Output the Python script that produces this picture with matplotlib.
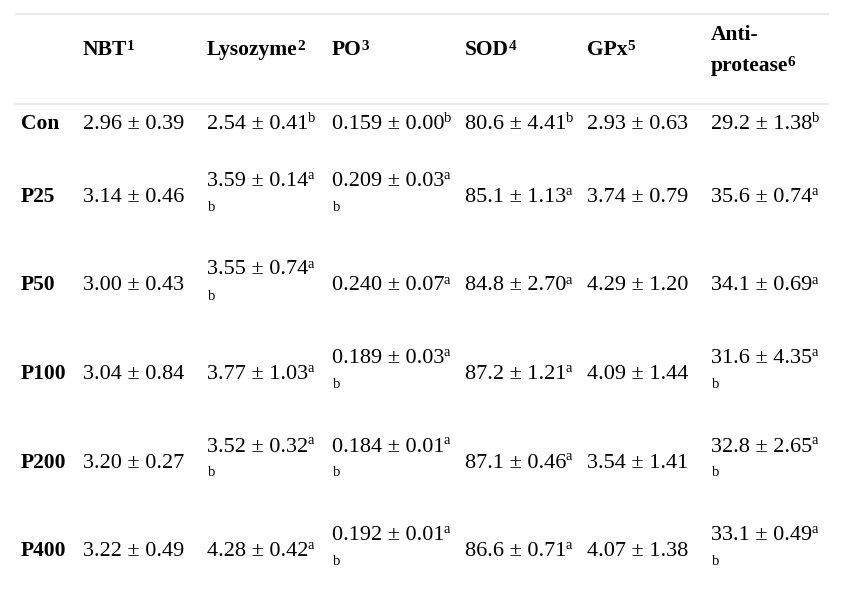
import matplotlib
matplotlib.use('Agg')
import matplotlib.pyplot as plt

# ---------------- data ----------------
groups = ['Con', 'P25', 'P50', 'P100', 'P200', 'P400']
headers = ['NBT', 'Lysozyme', 'PO', 'SOD', 'GPx', 'Anti-\nprotease']
header_notes = ['1', '2', '3', '4', '5', '6']

nbt_mean = [2.96, 3.14, 3.00, 3.04, 3.20, 3.22]
nbt_sd = [0.39, 0.46, 0.43, 0.84, 0.27, 0.49]
nbt_sig = ['', '', '', '', '', '']

lys_mean = [2.54, 3.59, 3.55, 3.77, 3.52, 4.28]
lys_sd = [0.41, 0.14, 0.74, 1.03, 0.32, 0.42]
lys_sig = ['b', 'ab', 'ab', 'a', 'ab', 'a']

po_mean = [0.159, 0.209, 0.240, 0.189, 0.184, 0.192]
po_sd = [0.00, 0.03, 0.07, 0.03, 0.01, 0.01]
po_sig = ['b', 'ab', 'a', 'ab', 'ab', 'ab']

sod_mean = [80.6, 85.1, 84.8, 87.2, 87.1, 86.6]
sod_sd = [4.41, 1.13, 2.70, 1.21, 0.46, 0.71]
sod_sig = ['b', 'a', 'a', 'a', 'a', 'a']

gpx_mean = [2.93, 3.74, 4.29, 4.09, 3.54, 4.07]
gpx_sd = [0.63, 0.79, 1.20, 1.44, 1.41, 1.38]
gpx_sig = ['', '', '', '', '', '']

ap_mean = [29.2, 35.6, 34.1, 31.6, 32.8, 33.1]
ap_sd = [1.38, 0.74, 0.69, 4.35, 2.65, 0.49]
ap_sig = ['b', 'a', 'a', 'ab', 'ab', 'ab']

mean_decimals = [2, 2, 3, 1, 2, 1]

columns = [
    (nbt_mean, nbt_sd, nbt_sig),
    (lys_mean, lys_sd, lys_sig),
    (po_mean, po_sd, po_sig),
    (sod_mean, sod_sd, sod_sig),
    (gpx_mean, gpx_sd, gpx_sig),
    (ap_mean, ap_sd, ap_sig),
]

# ---------------- layout ----------------
W, H = 867, 602
FONT = 'Liberation Serif'
SIZE = 16
HEAD = 15.5
LABEL = 15.5
SUP = 10.5
HSUP = 11
col_x = [83, 207, 332, 465, 587, 711]
label_x = 21
row_base = [129, 202, 290.5, 379, 467.5, 556]
header_base = 55
line_color = '#e6e6e6'

fig = plt.figure(figsize=(W / 100, H / 100), dpi=100)
ax = fig.add_axes([0, 0, 1, 1])
ax.set_xlim(0, W)
ax.set_ylim(H, 0)
ax.axis('off')
fig.canvas.draw()
renderer = fig.canvas.get_renderer()


def right_edge(t):
    bb = t.get_window_extent(renderer)
    return ax.transData.inverted().transform((bb.x1, bb.y0))[0]


def put(x, y, s, size=SIZE, weight='normal'):
    return ax.text(x, y, s, fontsize=size, fontfamily=FONT, fontweight=weight,
                   ha='left', va='baseline', color='#000000')


# horizontal rules
ax.plot([15, 829], [13.5, 13.5], color=line_color, lw=1.2, solid_capstyle='butt')
ax.plot([15, 829], [103.5, 103.5], color=line_color, lw=1.2, solid_capstyle='butt')

# header
for x, h, note in zip(col_x, headers, header_notes):
    lines = h.split('\n')
    if len(lines) == 1:
        bases = [header_base]
    else:
        bases = [40, 71]
    t = None
    for ln, b in zip(lines, bases):
        t = put(x, b, ln, size=HEAD, weight='bold')
    xe = right_edge(t)
    put(xe - 0.5, bases[-1] - 5, note, size=HSUP, weight='bold')

# body
for r, g in enumerate(groups):
    base = row_base[r]
    put(label_x, base, g, size=LABEL, weight='bold')
    for c, (mean, sd, sig) in enumerate(columns):
        s = f"{mean[r]:.{mean_decimals[c]}f} \u00b1 {sd[r]:.2f}"
        letters = sig[r]
        if len(letters) > 1:
            t = put(col_x[c], base - 16, s)
            xe = right_edge(t)
            put(xe - 0.5, base - 16 - 7, letters[0], size=SUP)
            put(col_x[c] + 0.5, base + 9, letters[1:], size=SUP)
        else:
            t = put(col_x[c], base, s)
            if letters:
                xe = right_edge(t)
                put(xe - 0.5, base - 7, letters, size=SUP)

fig.savefig('out.png', dpi=100, facecolor='white')
